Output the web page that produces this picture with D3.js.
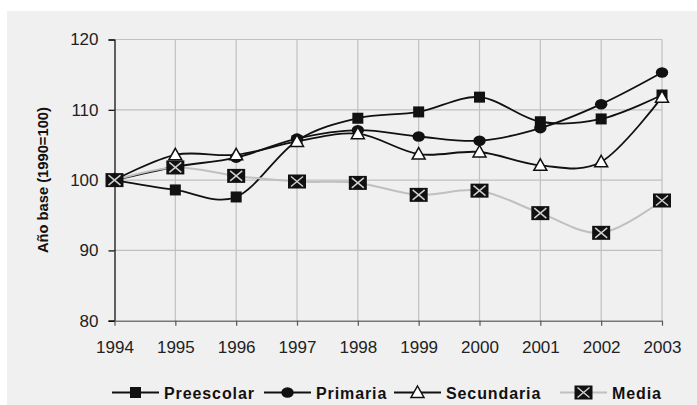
<!DOCTYPE html>
<html>
<head>
<meta charset="utf-8">
<script src="https://cdn.jsdelivr.net/npm/d3@7"></script>
<style>
  html, body { margin: 0; padding: 0; background: #fff; }
  svg { display: block; font-family: "Liberation Sans", Arial, sans-serif; }
</style>
</head>
<body>
<div id="chart"></div>
<script>
const years = [1994, 1995, 1996, 1997, 1998, 1999, 2000, 2001, 2002, 2003];
const preescolar = [100, 98.6, 97.6, 105.6, 108.8, 109.7, 111.8, 108.3, 108.7, 112.1];
const primaria = [100, 101.9, 103.2, 105.9, 107.1, 106.2, 105.6, 107.4, 110.8, 115.3];
const secundaria = [100, 103.6, 103.6, 105.5, 106.6, 103.7, 104.0, 102.1, 102.6, 111.8];
const media = [100, 101.8, 100.6, 99.8, 99.6, 97.9, 98.5, 95.3, 92.5, 97.1];
const yTicks = [80, 90, 100, 110, 120];

const series = [
  { name: "Preescolar", values: preescolar, marker: "square", color: "#111" },
  { name: "Primaria", values: primaria, marker: "circle", color: "#111" },
  { name: "Secundaria", values: secundaria, marker: "triangle", color: "#111" },
  { name: "Media", values: media, marker: "xbox", color: "#c0c0c0" }
];

const W = 697, H = 405;
const margin = { left: 114.5, top: 39.5, right: 35, bottom: 84.3 };

const svg = d3.select("#chart").append("svg")
  .attr("width", W).attr("height", H);

// chart area background
svg.append("rect")
  .attr("x", 7).attr("y", 11).attr("width", W - 7).attr("height", H - 11)
  .attr("fill", "#f0f0f0");

const x = d3.scalePoint().domain(years).range([margin.left, W - margin.right]);
const y = d3.scaleLinear().domain([80, 120]).range([H - margin.bottom, margin.top]);

// gridlines
const grid = svg.append("g").attr("stroke", "#c0c0c0").attr("stroke-width", 1.2);
grid.selectAll(".gy").data(yTicks.slice(1)).enter().append("line")
  .attr("x1", margin.left).attr("x2", W - margin.right)
  .attr("y1", d => y(d)).attr("y2", d => y(d));
grid.selectAll(".gx").data(years.slice(1)).enter().append("line")
  .attr("x1", d => x(d)).attr("x2", d => x(d))
  .attr("y1", y(120)).attr("y2", y(80));

// y axis
const yAxis = svg.append("g")
  .attr("transform", `translate(${margin.left},0)`)
  .call(d3.axisLeft(y).tickValues(yTicks).tickSize(6).tickPadding(10));
yAxis.select(".domain").attr("stroke", "#000").attr("stroke-width", 1.2);
yAxis.selectAll(".tick line").attr("stroke", "#000").attr("stroke-width", 1.2);
yAxis.selectAll(".tick text")
  .attr("font-size", 17).attr("fill", "#222")
  .attr("font-family", "Liberation Sans, Arial, sans-serif");

// x axis
const xAxis = svg.append("g")
  .attr("transform", `translate(0,${y(80)})`)
  .call(d3.axisBottom(x).tickSize(5).tickPadding(15).tickSizeOuter(0));
xAxis.select(".domain").attr("stroke", "#777").attr("stroke-width", 1.5);
xAxis.selectAll(".tick line").attr("stroke", "#555").attr("stroke-width", 1.2);
xAxis.selectAll(".tick text")
  .attr("font-size", 17).attr("fill", "#222")
  .attr("font-family", "Liberation Sans, Arial, sans-serif");

// y axis title
svg.append("text")
  .attr("transform", `translate(48,${(y(80) + y(120)) / 2}) rotate(-90)`)
  .attr("text-anchor", "middle")
  .attr("font-size", 14).attr("font-weight", "bold").attr("fill", "#111")
  .attr("textLength", 146).attr("lengthAdjust", "spacingAndGlyphs")
  .text("Año base (1990=100)");

function drawMarker(g, type, cx, cy) {
  if (type === "square") {
    g.append("rect").attr("x", cx - 5.5).attr("y", cy - 5.5)
      .attr("width", 11).attr("height", 11).attr("fill", "#111");
  } else if (type === "circle") {
    g.append("ellipse").attr("cx", cx).attr("cy", cy)
      .attr("rx", 6.2).attr("ry", 5.3).attr("fill", "#111");
  } else if (type === "triangle") {
    g.append("path")
      .attr("d", `M${cx},${cy - 6.5}L${cx + 6.5},${cy + 5}L${cx - 6.5},${cy + 5}Z`)
      .attr("fill", "#fff").attr("stroke", "#111").attr("stroke-width", 1.5);
  } else if (type === "xbox") {
    g.append("rect").attr("x", cx - 9).attr("y", cy - 7)
      .attr("width", 18).attr("height", 14).attr("fill", "#111");
    g.append("path")
      .attr("d", `M${cx - 6},${cy - 5}L${cx + 6},${cy + 5}M${cx + 6},${cy - 5}L${cx - 6},${cy + 5}`)
      .attr("stroke", "#d0d0d0").attr("stroke-width", 1.5).attr("fill", "none");
  }
}

const line = d3.line()
  .x((d, i) => x(years[i]))
  .y(d => y(d))
  .curve(d3.curveCatmullRom.alpha(0));

// series in natural order, each with its own line and markers
const plot = svg.append("g");
series.forEach(s => {
  plot.append("path")
    .attr("d", line(s.values))
    .attr("fill", "none")
    .attr("stroke", s.color)
    .attr("stroke-width", s.marker === "xbox" ? 2 : 1.8);
  const mg = plot.append("g");
  s.values.forEach((v, i) => drawMarker(mg, s.marker, x(years[i]), y(v)));
});

// legend
const legendX = [112, 264, 394, 560];
const legendY = 392.5;
const legend = svg.append("g");
series.forEach((s, i) => {
  const lx = legendX[i];
  const g = legend.append("g");
  g.append("line")
    .attr("x1", lx).attr("x2", lx + 47)
    .attr("y1", legendY).attr("y2", legendY)
    .attr("stroke", s.color).attr("stroke-width", s.marker === "xbox" ? 2 : 1.8);
  drawMarker(g, s.marker, lx + 23.5, legendY);
  g.append("text")
    .attr("x", lx + 52).attr("y", legendY + 6)
    .attr("font-size", 16).attr("font-weight", "bold").attr("fill", "#111")
    .attr("letter-spacing", 0.9)
    .text(s.name);
});
</script>
</body>
</html>
